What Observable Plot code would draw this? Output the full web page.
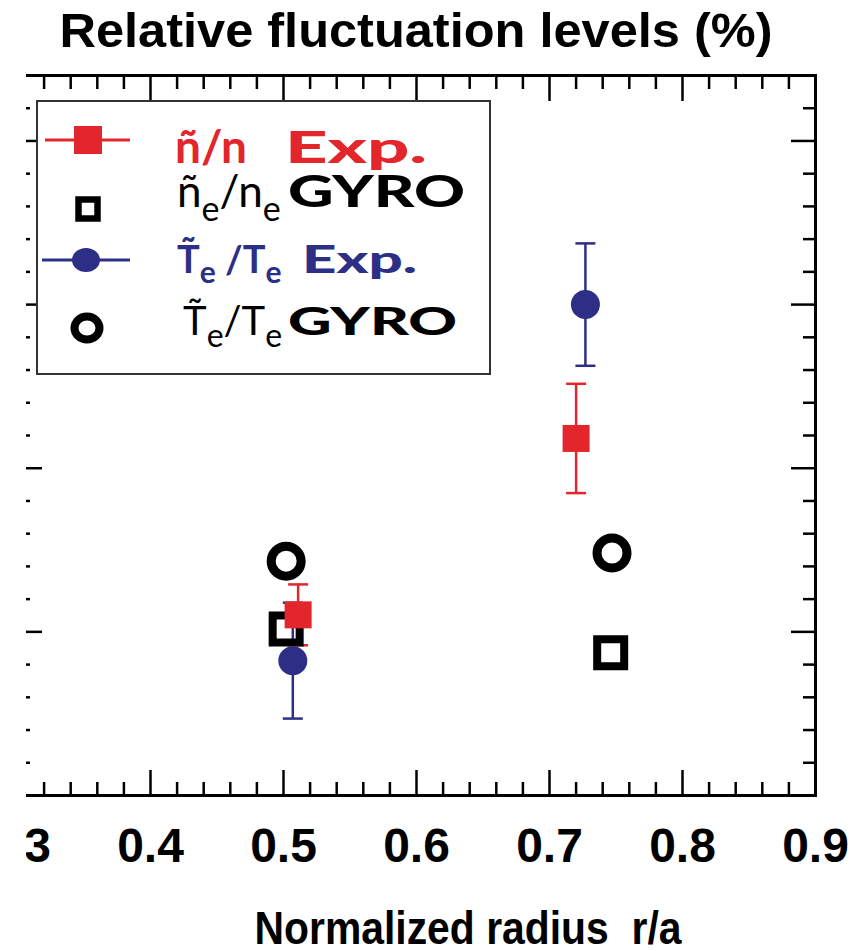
<!DOCTYPE html>
<html><head><meta charset="utf-8">
<script src="https://cdn.jsdelivr.net/npm/d3@7"></script>
<script src="https://cdn.jsdelivr.net/npm/@observablehq/plot@0.6"></script>
<style>
html,body{margin:0;padding:0;background:#fff;}
#wrap{position:relative;width:859px;height:951px;overflow:hidden;}
#chart{position:absolute;left:0;top:0;}
#over{position:absolute;left:0;top:0;}
</style></head><body>
<div id="wrap"><div id="chart"></div><svg id="over" width="859" height="951"></svg></div>
<script>
// ---- data ----
const expNr = [0.511, 0.720];   // ñ/n Exp. radius
const expNv = [0.552, 1.091];   // ñ/n Exp. level (%)
const expNe = [0.093, 0.167];   // ñ/n Exp. error
const expTr = [0.507, 0.727];   // Te/Te Exp. radius
const expTv = [0.412, 1.500];
const expTe = [0.177, 0.187];
const gyroNr = [0.502, 0.746];  // ñe/ne GYRO
const gyroNv = [0.509, 0.436];
const gyroTr = [0.502, 0.747];  // Te/Te GYRO
const gyroTv = [0.716, 0.741];

// ---- ticks ----
const xMajor = [0.3, 0.4, 0.5, 0.6, 0.7, 0.8, 0.9];
const xMinor = d3.range(15, 46).map(i => i / 50).filter(v => !xMajor.some(m => Math.abs(m - v) < 1e-9));
const yMajor = [0, 0.5, 1, 1.5, 2];
const yMinor = d3.range(0, 22).map(i => i / 10).filter(v => !yMajor.some(m => Math.abs(m - v) < 1e-9));
const xTickLabels = ["0.3", "0.4", "0.5", "0.6", "0.7", "0.8", "0.9"];

const titleText = "Relative fluctuation levels (%)";
const xLabelText = "Normalized radius\u00a0\u00a0r/a";

const RED = "#e2262b", BLUE = "#2d2f86";

const nE = expNr.map((r, i) => ({r, v: expNv[i], e: expNe[i]}));
const tE = expTr.map((r, i) => ({r, v: expTv[i], e: expTe[i]}));
const nG = gyroNr.map((r, i) => ({r, v: gyroNv[i]}));
const tG = gyroTr.map((r, i) => ({r, v: gyroTv[i]}));

const sq = h => ({draw(c) { c.moveTo(-h, -h); c.lineTo(h, -h); c.lineTo(h, h); c.lineTo(-h, h); c.closePath(); }});
const circ = r => ({draw(c) { c.moveTo(r, 0); c.arc(0, 0, r, 0, 2 * Math.PI); c.closePath(); }});
const cap = w => ({draw(c) { c.moveTo(-w, 0); c.lineTo(w, 0); }});

function errMarks(data, color) {
  return [
    Plot.ruleX(data, {x: "r", y1: d => d.v - d.e, y2: d => d.v + d.e, stroke: color, strokeWidth: 2.5}),
    Plot.dot(data, {x: "r", y: d => d.v - d.e, symbol: cap(10), stroke: color, strokeWidth: 2.5}),
    Plot.dot(data, {x: "r", y: d => d.v + d.e, symbol: cap(10), stroke: color, strokeWidth: 2.5})
  ];
}

const chart = Plot.plot({
  width: 859, height: 951,
  marginTop: 75, marginBottom: 156, marginLeft: 17, marginRight: 44,
  style: {background: "white", fontFamily: "'Liberation Sans', Arial, sans-serif", color: "black", overflow: "visible"},
  x: {domain: [0.3, 0.9], axis: null},
  y: {domain: [0, 2.2], axis: null},
  marks: [
    Plot.frame({stroke: "black", strokeWidth: 3}),
    // inward ticks on all four sides
    Plot.axisX(xMajor, {anchor: "bottom", tickSize: -25, fill: "none", label: null, strokeWidth: 2.5}),
    Plot.axisX(xMinor, {anchor: "bottom", tickSize: -13, fill: "none", label: null, strokeWidth: 2.5}),
    Plot.axisX(xMajor, {anchor: "top", tickSize: -25, fill: "none", label: null, strokeWidth: 2.5}),
    Plot.axisX(xMinor, {anchor: "top", tickSize: -13, fill: "none", label: null, strokeWidth: 2.5}),
    Plot.axisY(yMajor, {anchor: "left", tickSize: -25, fill: "none", label: null, strokeWidth: 2.5}),
    Plot.axisY(yMinor, {anchor: "left", tickSize: -13, fill: "none", label: null, strokeWidth: 2.5}),
    Plot.axisY(yMajor, {anchor: "right", tickSize: -25, fill: "none", label: null, strokeWidth: 2.5}),
    Plot.axisY(yMinor, {anchor: "right", tickSize: -13, fill: "none", label: null, strokeWidth: 2.5}),
    // tick labels
    Plot.axisX(xMajor, {anchor: "bottom", tickSize: 0, tickPadding: 32, fontSize: 48, fontWeight: "bold",
      label: null, tickFormat: (d, i) => xTickLabels[i]}),
    // data
    ...errMarks(tE, BLUE),
    ...errMarks(nE, RED),
    Plot.dot(nG, {x: "r", y: "v", symbol: sq(13.5), stroke: "black", strokeWidth: 8, fill: "none"}),
    Plot.dot(nE, {x: "r", y: "v", symbol: sq(13.5), fill: RED, stroke: "none"}),
    Plot.dot(tE, {x: "r", y: "v", symbol: circ(14.5), fill: BLUE, stroke: "none"}),
    Plot.dot(tG, {x: "r", y: "v", symbol: circ(15), stroke: "black", strokeWidth: 9, fill: "none"})
  ]
});
chart.style.clipPath = "inset(0px 0px 0px 26px)";
document.getElementById("chart").appendChild(chart);

// ---- title, axis label, legend ----
const legendFont = "Lato, 'Open Sans', sans-serif";
document.getElementById("over").innerHTML = `
<g font-family="'Liberation Sans', Arial, sans-serif">
  <text x="416" y="47" text-anchor="middle" font-size="48" font-weight="bold" textLength="713" lengthAdjust="spacingAndGlyphs">${titleText}</text>
  <text x="468" y="944" text-anchor="middle" font-size="47" font-weight="bold" textLength="427" lengthAdjust="spacingAndGlyphs">${xLabelText}</text>
</g>
<rect x="37" y="101" width="453" height="273" fill="white" stroke="#333" stroke-width="2"/>
<line x1="45" x2="130" y1="140" y2="140" stroke="${RED}" stroke-width="3"/>
<rect x="74" y="126" width="28" height="28" fill="${RED}"/>
<rect x="78.5" y="199.5" width="19" height="19" fill="none" stroke="black" stroke-width="6.5"/>
<line x1="42" x2="130" y1="260" y2="260" stroke="${BLUE}" stroke-width="3"/>
<ellipse cx="86" cy="260" rx="14" ry="12" fill="${BLUE}"/>
<ellipse cx="87" cy="328" rx="12.5" ry="11.5" fill="none" stroke="black" stroke-width="8"/>
<g font-family="${legendFont}">
  <text x="175" y="163" font-size="46" font-weight="bold" fill="${RED}">ñ/n</text>
  <text x="285" y="163" font-size="44" font-weight="900" fill="${RED}" textLength="142" lengthAdjust="spacingAndGlyphs">Exp.</text>
  <text x="177" y="207" font-size="44" fill="black">ñ<tspan font-size="34" dy="14">e</tspan><tspan dy="-14">/n</tspan><tspan font-size="34" dy="14">e</tspan></text>
  <text x="288" y="207" font-size="44" font-weight="900" fill="black" textLength="177" lengthAdjust="spacingAndGlyphs">GYRO</text>
  <text x="177" y="273" font-size="38" font-weight="bold" fill="${BLUE}">T̃<tspan font-size="30" dy="10">e</tspan><tspan dy="-10"> /T</tspan><tspan font-size="30" dy="10">e</tspan></text>
  <text x="302" y="273" font-size="37" font-weight="900" fill="${BLUE}" textLength="115" lengthAdjust="spacingAndGlyphs">Exp.</text>
  <text x="183" y="335" font-size="40" fill="black">T̃<tspan font-size="32" dy="12">e</tspan><tspan dy="-12">/T</tspan><tspan font-size="32" dy="12">e</tspan></text>
  <text x="288" y="335" font-size="38" font-weight="900" fill="black" textLength="169" lengthAdjust="spacingAndGlyphs">GYRO</text>
</g>`;
</script>
</body></html>
